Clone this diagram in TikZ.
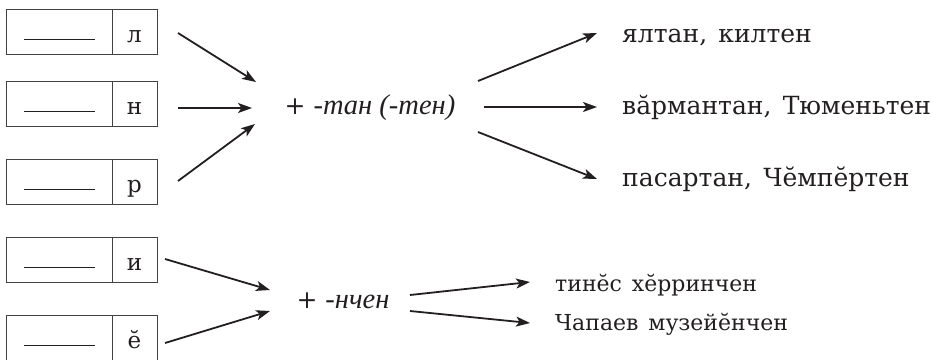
\documentclass[tikz,border=0pt]{standalone}
\usepackage{fontspec}
\setmainfont{DejaVu Serif}
\newfontfamily\itfont{Liberation Serif}[UprightFont=* Italic]
\usetikzlibrary{arrows.meta}
\definecolor{ink}{HTML}{231F20}
\newcommand{\gap}{\hspace{0.45em}}
\newcommand{\ittext}[1]{{\fontsize{28.5}{30}\itfont #1}}
\begin{document}
\begin{tikzpicture}[x=1pt,y=-1pt,
  boxl/.style={draw=ink!85,line width=0.9pt,minimum width=106pt,minimum height=45pt,inner sep=0pt,outer sep=0pt,anchor=north west},
  boxr/.style={draw=ink!85,line width=0.9pt,minimum width=45pt,minimum height=45pt,inner sep=0pt,outer sep=0pt,anchor=north west},
  letter/.style={font=\fontsize{23}{26}\selectfont,text=ink,inner sep=0pt,anchor=base},
  arr/.style={draw=ink,line width=1.8pt,-{Stealth[length=14pt,width=10pt,inset=3.5pt]}},
  big/.style={font=\fontsize{25}{28}\selectfont,text=ink,anchor=base west,inner sep=0pt},
  small/.style={font=\fontsize{22}{26}\selectfont,text=ink,anchor=base west,inner sep=0pt},
  mid/.style={font=\fontsize{25}{28}\selectfont,text=ink,inner sep=0pt,anchor=base}]
\clip (0,0) rectangle (933,359);
\useasboundingbox (0,0) rectangle (933,359);
% boxes
\foreach \n/\y/\l in {1/9/л,2/81/н,3/159/р,4/237/и,5/315/ӗ}{
  \node[boxl] (b\n) at (6,\y) {};
  \node[boxr] (r\n) at (112,\y) {};
  \node[letter] (l\n) at ([yshift=-33pt]r\n.north) {\l};
  \draw[ink,line width=0.9pt] ([xshift=-35.5pt,yshift=-7.5pt]b\n.center) -- ++(71,0);
}
% middle nodes
\node[mid] (m1) at (370,114) {+ \ittext{-тан (-тен)}};
\node[mid] (m2) at (343,308) {+ \ittext{-нчен}};
% right texts
\node[big] (t1) at (622,42) {ялтан,\gap килтен};
\node[big] (t2) at (622,114) {вӑрмантан,\gap Тюменьтен};
\node[big] (t3) at (622,186) {пасартан,\gap Чӗмпӗртен};
\node[small] (t4) at (555,291) {тинӗс\gap хӗрринчен};
\node[small] (t5) at (555,330) {Чапаев\gap музейӗнчен};
% arrow coordinates
\coordinate (a1s) at (178,33); \coordinate (a1e) at (256,82);
\coordinate (a2s) at (178,108); \coordinate (a2e) at (252,108);
\coordinate (a3s) at (178,181); \coordinate (a3e) at (255,124);
\coordinate (o1s) at (478,81); \coordinate (o1e) at (597,33);
\coordinate (o2s) at (484,107); \coordinate (o2e) at (597,107);
\coordinate (o3s) at (478,132); \coordinate (o3e) at (597,179);
\coordinate (p1s) at (165,259); \coordinate (p1e) at (270,290);
\coordinate (p2s) at (165,343); \coordinate (p2e) at (270,311);
\coordinate (q1s) at (410,295); \coordinate (q1e) at (530,282);
\coordinate (q2s) at (410,311); \coordinate (q2e) at (530,323);
\foreach \s in {a1,a2,a3,o1,o2,o3,p1,p2,q1,q2}{\draw[arr] (\s s) -- (\s e);}
\end{tikzpicture}
\end{document}
